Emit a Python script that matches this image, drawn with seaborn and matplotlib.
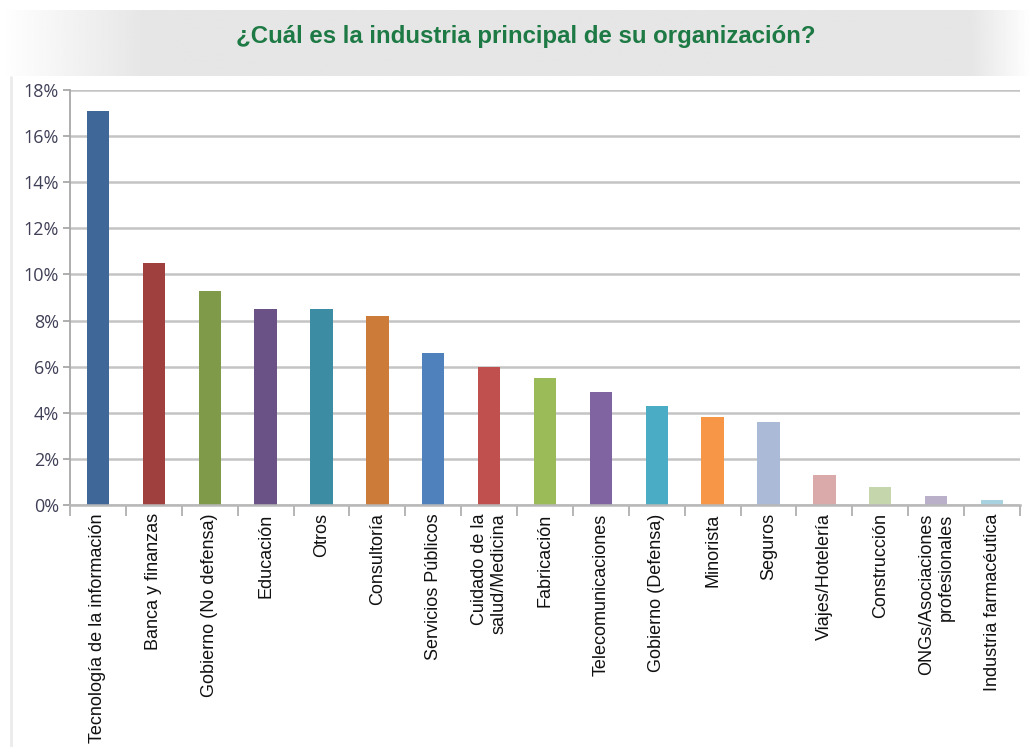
import numpy as np
import pandas as pd
import matplotlib
matplotlib.use("Agg")
import matplotlib.pyplot as plt
from matplotlib.ticker import FixedLocator, FuncFormatter
import seaborn as sns

industrias = [
    "Tecnología de la información", "Banca y finanzas", "Gobierno (No defensa)",
    "Educación", "Otros", "Consultoría", "Servicios Públicos",
    "Cuidado de la\nsalud/Medicina", "Fabricación", "Telecomunicaciones",
    "Gobierno (Defensa)", "Minorista", "Seguros", "Viajes/Hotelería",
    "Construcción", "ONGs/Asociaciones\nprofesionales", "Industria farmacéutica",
]
porcentajes = [17.1, 10.5, 9.3, 8.5, 8.5, 8.2, 6.6, 6.0, 5.5, 4.9,
               4.3, 3.8, 3.6, 1.3, 0.8, 0.4, 0.2]
colores = [
    "#3F6797", "#A0403E", "#7F9A48", "#6A5186", "#3C8DA3", "#CC7B38",
    "#4F81BD", "#C0504D", "#9BBB59", "#8064A2", "#4BACC6", "#F79646",
    "#AABAD7", "#D9AAA9", "#C6D6AC", "#BAB0C9", "#A9D2E0",
]
y_ticks = [0, 2, 4, 6, 8, 10, 12, 14, 16, 18]
titulo = "¿Cuál es la industria principal de su organización?"

df = pd.DataFrame({"industria": industrias, "pct": porcentajes})

sns.set_theme(style="white")
plt.rcParams["font.family"] = ["Liberation Sans", "DejaVu Sans"]

W, H = 1033, 747
fig = plt.figure(figsize=(W / 100, H / 100), dpi=100)
fig.patch.set_facecolor("white")

# header band with a soft horizontal gradient
band = fig.add_axes([0, 1 - 76 / H, 1, 66 / H])
xg = np.linspace(0, 1, 600)
edge = np.clip(np.minimum(xg / 0.14, (1 - xg) / 0.06), 0, 1)
shade = 1 - edge * (1 - 0.90)
band.imshow(np.tile(shade, (10, 1)), cmap="gray", vmin=0, vmax=1,
            aspect="auto", extent=[0, 1, 0, 1])
band.set_axis_off()
fig.text(526 / W, 1 - 36 / H, titulo, ha="center", va="center",
         fontsize=17.3, fontweight="bold", color="#1D7A44")

# faint edge of the chart panel
fig.add_artist(plt.Line2D([11 / W, 11 / W], [0, 1 - 77 / H],
                          color="#EBEBEB", lw=2))

ax = fig.add_axes([70 / W, 1 - 505 / H, 950 / W, 415 / H])
sns.barplot(data=df, x="industria", y="pct", hue="industria",
            palette=colores, width=0.4, legend=False, ax=ax,
            saturation=1, edgecolor="none")

ax.set_xlim(-0.5, len(industrias) - 0.5)
ax.set_ylim(0, 18)
ax.set_xlabel("")
ax.set_ylabel("")

ax.yaxis.set_major_locator(FixedLocator(y_ticks))
ax.yaxis.set_major_formatter(FuncFormatter(lambda v, p: f"{v:.0f}%"))
ax.grid(axis="y", color="#C4C4C4", lw=1.8)
ax.set_axisbelow(True)

for s in ["top", "right"]:
    ax.spines[s].set_visible(False)
ax.spines["left"].set_color("#A8A8A8")
ax.spines["bottom"].set_color("#B8B8B8")
ax.spines["left"].set_linewidth(1.3)
ax.spines["bottom"].set_linewidth(1.8)

ax.tick_params(axis="y", which="major", left=True, length=5, width=1.3,
               color="#A8A8A8", labelsize=13, labelcolor="#404058", pad=3)
for t in ax.get_yticklabels():
    t.set_family(["Open Sans", "DejaVu Sans"])

# category labels at bar centres, tick marks at the category boundaries
ax.set_xticks(range(len(industrias)))
ax.set_xticklabels(industrias, rotation=90, ha="center", va="top",
                   multialignment="right", fontsize=13, color="#111111")
ax.tick_params(axis="x", which="major", length=0, pad=6)
ax.xaxis.set_minor_locator(FixedLocator(np.arange(-0.5, len(industrias), 1.0)))
ax.tick_params(axis="x", which="minor", bottom=True, length=8, width=1.3,
               color="#B0B0B0")

fig.savefig("out.png", dpi=100)
